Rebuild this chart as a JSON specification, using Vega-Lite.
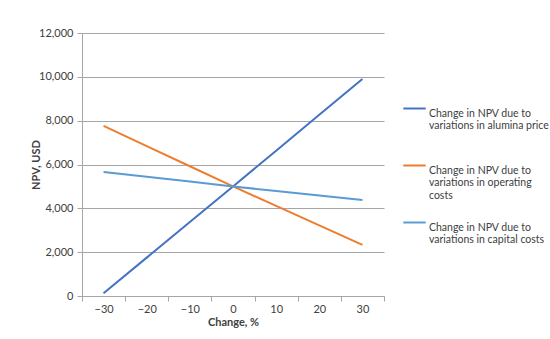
{
  "$schema": "https://vega.github.io/schema/vega-lite/v6.json",
  "width": 302,
  "height": 263,
  "autosize": {"type": "none"},
  "padding": {"left": 82, "top": 33, "right": 166, "bottom": 43},
  "background": "white",
  "data": {
    "values": [
      {"change": -30, "npv": 130, "series": "Change in NPV due to variations in alumina price"},
      {"change": -20, "npv": 1750, "series": "Change in NPV due to variations in alumina price"},
      {"change": -10, "npv": 3380, "series": "Change in NPV due to variations in alumina price"},
      {"change": 0, "npv": 5000, "series": "Change in NPV due to variations in alumina price"},
      {"change": 10, "npv": 6630, "series": "Change in NPV due to variations in alumina price"},
      {"change": 20, "npv": 8270, "series": "Change in NPV due to variations in alumina price"},
      {"change": 30, "npv": 9900, "series": "Change in NPV due to variations in alumina price"},
      {"change": -30, "npv": 7760, "series": "Change in NPV due to variations in operating costs"},
      {"change": -20, "npv": 6840, "series": "Change in NPV due to variations in operating costs"},
      {"change": -10, "npv": 5920, "series": "Change in NPV due to variations in operating costs"},
      {"change": 0, "npv": 5000, "series": "Change in NPV due to variations in operating costs"},
      {"change": 10, "npv": 4110, "series": "Change in NPV due to variations in operating costs"},
      {"change": 20, "npv": 3220, "series": "Change in NPV due to variations in operating costs"},
      {"change": 30, "npv": 2330, "series": "Change in NPV due to variations in operating costs"},
      {"change": -30, "npv": 5660, "series": "Change in NPV due to variations in capital costs"},
      {"change": -20, "npv": 5440, "series": "Change in NPV due to variations in capital costs"},
      {"change": -10, "npv": 5220, "series": "Change in NPV due to variations in capital costs"},
      {"change": 0, "npv": 5000, "series": "Change in NPV due to variations in capital costs"},
      {"change": 10, "npv": 4790, "series": "Change in NPV due to variations in capital costs"},
      {"change": 20, "npv": 4590, "series": "Change in NPV due to variations in capital costs"},
      {"change": 30, "npv": 4380, "series": "Change in NPV due to variations in capital costs"}
    ]
  },
  "mark": {"type": "line", "strokeWidth": 2},
  "encoding": {
    "x": {
      "field": "change",
      "type": "quantitative",
      "scale": {"domain": [-35, 35], "nice": false, "zero": false},
      "axis": {
        "title": "Change, %",
        "values": [-35, -25, -15, -5, 5, 15, 25, 35],
        "grid": false,
        "ticks": true,
        "labelOffset": 21.6,
        "labelFlush": false,
        "labelOverlap": false,
        "labelExpr": "datum.value >= 35 ? '' : (datum.value + 5 < 0 ? '\u2212' + abs(datum.value + 5) : '' + (datum.value + 5))",
        "titlePadding": 2
      }
    },
    "y": {
      "field": "npv",
      "type": "quantitative",
      "scale": {"domain": [0, 12000], "nice": false},
      "axis": {
        "title": "NPV, USD",
        "values": [0, 2000, 4000, 6000, 8000, 10000, 12000],
        "format": ",d",
        "titlePadding": -3,
        "domain": true
      }
    },
    "color": {
      "field": "series",
      "type": "nominal",
      "scale": {
        "domain": [
          "Change in NPV due to variations in alumina price",
          "Change in NPV due to variations in operating costs",
          "Change in NPV due to variations in capital costs"
        ],
        "range": ["#4472C4", "#ED7D31", "#5B9BD5"]
      },
      "legend": {
        "title": null,
        "orient": "none",
        "legendX": 320,
        "legendY": 63,
        "symbolType": "stroke",
        "symbolSize": 500,
        "symbolStrokeWidth": 2,
        "rowPadding": 9,
        "labelOffset": 2,
        "labelBaseline": "top",
        "labelLimit": 300,
        "labelExpr": "datum.label == 'Change in NPV due to variations in operating costs' ? ['Change in NPV due to', 'variations in operating', 'costs'] : ['Change in NPV due to', substring(datum.label, 21), ' ']"
      }
    }
  },
  "config": {
    "font": "Lato",
    "view": {"stroke": null},
    "axis": {
      "labelFont": "Lato",
      "labelFontSize": 11,
      "labelColor": "#404040",
      "titleFont": "Lato",
      "titleFontSize": 11,
      "titleFontWeight": "bold",
      "titleColor": "#404040",
      "domainColor": "#A6A6A6",
      "tickColor": "#A6A6A6",
      "gridColor": "#A6A6A6",
      "tickSize": 5
    },
    "axisY": {"grid": true, "labelPadding": 4},
    "legend": {
      "labelFont": "Lato",
      "labelFontSize": 10.5,
      "labelColor": "#404040"
    }
  }
}
